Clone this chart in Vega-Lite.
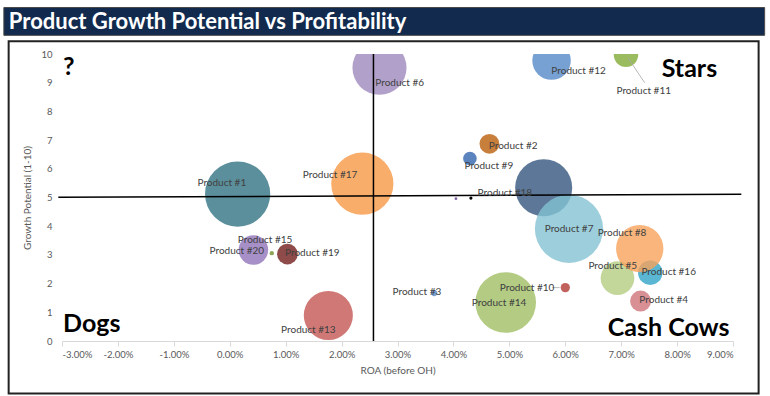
{
  "$schema": "https://vega.github.io/schema/vega-lite/v6.json",
  "width": 671,
  "height": 287,
  "autosize": {"type": "none"},
  "padding": {"left": 62, "top": 54, "right": 37, "bottom": 55},
  "background": "white",
  "config": {"view": {"stroke": null}, "font": "Lato"},
  "datasets": {
    "bubbles": [
      {"product": "Product #1", "roa": 0.00141, "growth": 5.12, "value": 89.0},
      {"product": "Product #2", "roa": 0.04644, "growth": 6.87, "value": 8.2},
      {"product": "Product #3", "roa": 0.03657, "growth": 1.67, "value": 0.8},
      {"product": "Product #4", "roa": 0.07347, "growth": 1.39, "value": 9.2},
      {"product": "Product #5", "roa": 0.06934, "growth": 2.19, "value": 23.7},
      {"product": "Product #6", "roa": 0.02678, "growth": 9.52, "value": 61.2},
      {"product": "Product #18", "roa": 0.05614, "growth": 5.34, "value": 68.2},
      {"product": "Product #7", "roa": 0.06067, "growth": 3.91, "value": 97.5},
      {"product": "Product #16", "roa": 0.0752, "growth": 2.38, "value": 12.5},
      {"product": "Product #8", "roa": 0.07332, "growth": 3.22, "value": 46.9},
      {"product": "Product #9", "roa": 0.04295, "growth": 6.36, "value": 3.9},
      {"product": "Product #10", "roa": 0.06001, "growth": 1.86, "value": 1.8},
      {"product": "Product #11", "roa": 0.07086, "growth": 9.97, "value": 12.5},
      {"product": "Product #12", "roa": 0.05755, "growth": 9.77, "value": 31.0},
      {"product": "Product #13", "roa": 0.01763, "growth": 0.89, "value": 50.4},
      {"product": "Product #14", "roa": 0.04935, "growth": 1.34, "value": 76.9},
      {"product": "Product #15", "roa": 0.00752, "growth": 3.06, "value": 0.4},
      {"product": "Product #17", "roa": 0.02371, "growth": 5.48, "value": 81.0},
      {"product": "Product #19", "roa": 0.01031, "growth": 3.03, "value": 9.0},
      {"product": "Product #20", "roa": 0.00423, "growth": 3.17, "value": 18.3}
    ],
    "labels": [
      {"product": "Product #1", "roa": -0.00141, "growth": 5.497},
      {"product": "Product #2", "roa": 0.05069, "growth": 6.811},
      {"product": "Product #3", "roa": 0.03348, "growth": 1.696},
      {"product": "Product #4", "roa": 0.07761, "growth": 1.416},
      {"product": "Product #5", "roa": 0.0685, "growth": 2.605},
      {"product": "Product #6", "roa": 0.03039, "growth": 8.993},
      {"product": "Product #7", "roa": 0.06069, "growth": 3.888},
      {"product": "Product #8", "roa": 0.07016, "growth": 3.769},
      {"product": "Product #9", "roa": 0.04634, "growth": 6.112},
      {"product": "Product #10", "roa": 0.05317, "growth": 1.86},
      {"product": "Product #11", "roa": 0.07404, "growth": 8.699},
      {"product": "Product #12", "roa": 0.06239, "growth": 9.413},
      {"product": "Product #13", "roa": 0.01406, "growth": 0.367},
      {"product": "Product #14", "roa": 0.04817, "growth": 1.322},
      {"product": "Product #15", "roa": 0.00632, "growth": 3.524},
      {"product": "Product #16", "roa": 0.0785, "growth": 2.395},
      {"product": "Product #17", "roa": 0.01794, "growth": 5.797},
      {"product": "Product #18", "roa": 0.0492, "growth": 5.147},
      {"product": "Product #19", "roa": 0.01477, "growth": 3.049},
      {"product": "Product #20", "roa": 0.00127, "growth": 3.129}
    ],
    "crosslines": [
      {"roa": 0.0257, "growth": 0, "roa2": 0.0257, "growth2": 10},
      {"roa": -0.03066, "growth": 5.007, "roa2": 0.09149, "growth2": 5.11}
    ],
    "leaders": [
      {"roa": 0.07118, "growth": 9.88, "roa2": 0.0742, "growth2": 9.0},
      {"roa": 0.05765, "growth": 1.86, "roa2": 0.0590, "growth2": 1.86}
    ],
    "quadrants": [
      {"label": "?", "roa": -0.0298, "growth": 9.28},
      {"label": "Stars", "roa": 0.07725, "growth": 9.21},
      {"label": "Dogs", "roa": -0.0298, "growth": 0.33},
      {"label": "Cash Cows", "roa": 0.0676, "growth": 0.19}
    ]
  },
  "layer": [
    {
      "data": {"name": "bubbles"},
      "mark": {"type": "circle", "opacity": 0.8, "clip": true},
      "encoding": {
        "x": {
          "field": "roa", "type": "quantitative",
          "scale": {"domain": [-0.03, 0.09], "nice": false, "zero": false},
          "axis": {
            "values": [-0.03, -0.02, -0.01, 0, 0.01, 0.02, 0.03, 0.04, 0.05, 0.06, 0.07, 0.08, 0.09],
            "labelExpr": "(datum.value < -0.00001 ? '-' : '') + format(abs(datum.value), '.2%')",
            "labelOverlap": false,
            "grid": false, "domainColor": "#d9d9d9", "tickColor": "#d9d9d9", "tickSize": 5,
            "labelPadding": 3, "labelColor": "#595959", "labelFontSize": 9.5, "labelFont": "Lato",
            "title": "ROA (before OH)", "titleColor": "#595959", "titleFontSize": 10, "titleFontWeight": "normal", "titleFont": "Lato", "titlePadding": 7
          }
        },
        "y": {
          "field": "growth", "type": "quantitative",
          "scale": {"domain": [0, 10], "nice": false, "zero": false},
          "axis": {
            "values": [0, 1, 2, 3, 4, 5, 6, 7, 8, 9, 10],
            "tickCount": 11,
            "labelOverlap": false,
            "grid": false, "domain": false, "ticks": false, "labelPadding": 10,
            "labelColor": "#595959", "labelFontSize": 9.5, "labelFont": "Lato",
            "title": "Growth Potential (1-10)", "titleColor": "#595959", "titleFontSize": 10, "titleFontWeight": "normal", "titleFont": "Lato", "titlePadding": 8
          }
        },
        "size": {"field": "value", "type": "quantitative", "scale": {"type": "linear", "domain": [0, 100], "range": [0, 4778], "zero": true}, "legend": null},
        "color": {
          "field": "product", "type": "nominal", "legend": null,
          "scale": {
            "domain": ["Product #1", "Product #2", "Product #3", "Product #4", "Product #5", "Product #6", "Product #7", "Product #8", "Product #9", "Product #10", "Product #11", "Product #12", "Product #13", "Product #14", "Product #15", "Product #16", "Product #17", "Product #18", "Product #19", "Product #20"],
            "range": ["#327382", "#bb5f0b", "#5b8ac8", "#cf747a", "#b4cd82", "#9e88bb", "#83c2d2", "#f7a25b", "#3265af", "#b23a36", "#82aa37", "#558ac8", "#c45654", "#a0be64", "#6f8f2f", "#31a4c7", "#f79846", "#33557d", "#731d1d", "#9174ba"]
          }
        }
      }
    },
    {
      "data": {"values": [{"x1": -0.03954, "x2": 0.09458, "y1": 10.448, "y2": -1.825}]},
      "mark": {"type": "rect", "fill": null, "stroke": "#222222", "strokeWidth": 2, "clip": false},
      "encoding": {
        "x": {"field": "x1", "type": "quantitative", "scale": {"domain": [-0.03, 0.09], "nice": false, "zero": false}},
        "x2": {"field": "x2"},
        "y": {"field": "y1", "type": "quantitative", "scale": {"domain": [0, 10], "nice": false, "zero": false}},
        "y2": {"field": "y2"}
      }
    },
    {
      "data": {"values": [{"x1": -0.0404, "x2": 0.09566, "y1": 11.62, "y2": 10.65, "t": "Product Growth Potential vs Profitability"}]},
      "layer": [
        {
          "mark": {"type": "rect", "fill": "#112a4e", "stroke": "#4a4a4a", "strokeWidth": 1, "clip": false},
          "encoding": {
            "x": {"field": "x1", "type": "quantitative", "scale": {"domain": [-0.03, 0.09], "nice": false, "zero": false}},
            "x2": {"field": "x2"},
            "y": {"field": "y1", "type": "quantitative", "scale": {"domain": [0, 10], "nice": false, "zero": false}},
            "y2": {"field": "y2"}
          }
        },
        {
          "mark": {"type": "text", "align": "left", "baseline": "alphabetic", "dx": 5, "dy": -6, "font": "Lato", "fontWeight": "bold", "fontSize": 22, "color": "white", "clip": false},
          "encoding": {
            "x": {"field": "x1", "type": "quantitative", "scale": {"domain": [-0.03, 0.09], "nice": false, "zero": false}},
            "y": {"field": "y2", "type": "quantitative", "scale": {"domain": [0, 10], "nice": false, "zero": false}},
            "text": {"field": "t"}
          }
        }
      ]
    },
    {
      "data": {"values": [{"roa": 0.04313, "growth": 4.98}]},
      "mark": {"type": "point", "filled": true, "color": "black", "size": 10, "opacity": 1},
      "encoding": {
        "x": {"field": "roa", "type": "quantitative", "scale": {"domain": [-0.03, 0.09], "nice": false, "zero": false}},
        "y": {"field": "growth", "type": "quantitative", "scale": {"domain": [0, 10], "nice": false, "zero": false}}
      }
    },
    {
      "data": {"values": [{"roa": 0.04045, "growth": 4.96}]},
      "mark": {"type": "point", "filled": true, "color": "#8064a2", "size": 8, "opacity": 1},
      "encoding": {
        "x": {"field": "roa", "type": "quantitative", "scale": {"domain": [-0.03, 0.09], "nice": false, "zero": false}},
        "y": {"field": "growth", "type": "quantitative", "scale": {"domain": [0, 10], "nice": false, "zero": false}}
      }
    },
    {
      "data": {"name": "crosslines"},
      "mark": {"type": "rule", "color": "black", "strokeWidth": 1.5, "clip": false},
      "encoding": {
        "x": {"field": "roa", "type": "quantitative", "scale": {"domain": [-0.03, 0.09], "nice": false, "zero": false}},
        "x2": {"field": "roa2"},
        "y": {"field": "growth", "type": "quantitative", "scale": {"domain": [0, 10], "nice": false, "zero": false}},
        "y2": {"field": "growth2"}
      }
    },
    {
      "data": {"name": "leaders"},
      "mark": {"type": "rule", "color": "#a6a6a6", "strokeWidth": 0.8},
      "encoding": {
        "x": {"field": "roa", "type": "quantitative", "scale": {"domain": [-0.03, 0.09], "nice": false, "zero": false}},
        "x2": {"field": "roa2"},
        "y": {"field": "growth", "type": "quantitative", "scale": {"domain": [0, 10], "nice": false, "zero": false}},
        "y2": {"field": "growth2"}
      }
    },
    {
      "data": {"name": "labels"},
      "mark": {"type": "text", "align": "center", "baseline": "middle", "font": "Lato", "fontSize": 10, "color": "#404040"},
      "encoding": {
        "x": {"field": "roa", "type": "quantitative", "scale": {"domain": [-0.03, 0.09], "nice": false, "zero": false}},
        "y": {"field": "growth", "type": "quantitative", "scale": {"domain": [0, 10], "nice": false, "zero": false}},
        "text": {"field": "product"}
      }
    },
    {
      "data": {"name": "quadrants"},
      "mark": {"type": "text", "align": "left", "baseline": "alphabetic", "font": "Lato", "fontWeight": "bold", "fontSize": 25, "color": "black"},
      "encoding": {
        "x": {"field": "roa", "type": "quantitative", "scale": {"domain": [-0.03, 0.09], "nice": false, "zero": false}},
        "y": {"field": "growth", "type": "quantitative", "scale": {"domain": [0, 10], "nice": false, "zero": false}},
        "text": {"field": "label"}
      }
    }
  ]
}
